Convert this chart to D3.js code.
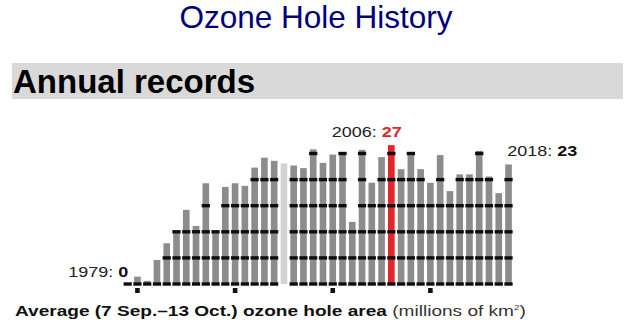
<!DOCTYPE html>
<html>
<head>
<meta charset="utf-8">
<script src="https://cdn.jsdelivr.net/npm/d3@7"></script>
<style>
  body { margin: 0; background: #fff; }
  svg { display: block; font-family: "Liberation Sans", Arial, sans-serif; }
</style>
</head>
<body>
<svg id="chart" width="631" height="323"></svg>
<script>
// years shown on the chart
var years = [1979, 1980, 1981, 1982, 1983, 1984, 1985, 1986, 1987, 1988,
             1989, 1990, 1991, 1992, 1993, 1994, 1995, 1996, 1997, 1998,
             1999, 2000, 2001, 2002, 2003, 2004, 2005, 2006, 2007, 2008,
             2009, 2010, 2011, 2012, 2013, 2014, 2015, 2016, 2017, 2018];
// average ozone hole area, millions of km2
var areas = [0.1, 1.4, 0.6, 4.6, 7.8, 10.1, 14.2, 11.1, 19.3, 10.1,
             18.6, 19.3, 18.8, 22.3, 24.2, 23.6, 23.1, 22.7, 22.2, 25.8,
             23.2, 24.8, 25.2, 11.9, 25.7, 19.4, 24.3, 26.6, 22.0, 25.2,
             22.0, 19.4, 24.7, 17.8, 21.0, 21.0, 25.5, 20.6, 17.4, 22.9];
var missingYears = [1995];
var highlightYear = 2006;
var gridLevels = [0, 5, 10, 15, 20, 25];
var decadeTicks = [1980, 1990, 2000, 2010];
var callouts = [
  { year: 1979, label: "1979: ", value: "0", red: false },
  { year: 2006, label: "2006: ", value: "27", red: true },
  { year: 2018, label: "2018: ", value: "23", red: false }
];

var data = years.map(function(y, i) {
  return { year: y, value: areas[i], missing: missingYears.indexOf(y) >= 0 };
});

var svg = d3.select("#chart");

// page header
svg.append("text")
  .attr("x", 316).attr("y", 27.5)
  .attr("text-anchor", "middle")
  .style("font-size", "31.5px")
  .style("fill", "#000080")
  .text("Ozone Hole History");

svg.append("rect")
  .attr("x", 12).attr("y", 63)
  .attr("width", 611).attr("height", 36)
  .style("fill", "#d9d9d9");

svg.append("text")
  .attr("x", 13).attr("y", 93)
  .style("font-size", "33px")
  .style("font-weight", "bold")
  .style("fill", "#000")
  .text("Annual records");

// scales
var x = d3.scaleBand().domain(years).range([122.8, 513.4]).paddingInner(0.32).paddingOuter(0.16);
var y = d3.scaleLinear().domain([0, 25]).range([284, 153.5]);
var bw = x.bandwidth();

var g = svg.append("g").attr("class", "bars");

g.selectAll(".bar")
  .data(data)
  .enter()
  .append("rect")
  .attr("class", "bar")
  .attr("x", function(d) { return x(d.year); })
  .attr("width", bw)
  .attr("y", function(d) { return y(d.value); })
  .attr("height", function(d) { return y(0) - y(d.value); })
  .style("fill", function(d) {
    if (d.missing) return "#d3d3d3";
    return d.year === highlightYear ? "#e3262b" : "#8c8c8c";
  });

// black dashes where a bar crosses each 5-unit level
var dashes = [];
data.forEach(function(d) {
  if (d.missing) return;
  gridLevels.forEach(function(l) {
    if (d.value >= l) dashes.push({ year: d.year, level: l });
  });
});

g.selectAll(".dash")
  .data(dashes)
  .enter()
  .append("rect")
  .attr("class", "dash")
  .attr("x", function(d) { return x(d.year) - 0.8; })
  .attr("width", bw + 1.6)
  .attr("y", function(d) { return y(d.level) - 1.7; })
  .attr("height", 3.4)
  .style("fill", "#0d0d0d");

// decade markers under the baseline
g.selectAll(".tick")
  .data(decadeTicks)
  .enter()
  .append("rect")
  .attr("class", "tick")
  .attr("x", function(d) { return x(d) + bw / 2 - 2.3; })
  .attr("width", 4.6)
  .attr("y", y(0) + 4)
  .attr("height", 5)
  .style("fill", "#111");

// callout labels (the chart image is stretched horizontally)
var sx = 1.2;
callouts.forEach(function(c) {
  var d = data[years.indexOf(c.year)];
  var cx = x(c.year) + bw / 2;
  var px, py, anchor;
  if (c.year === 1979) { px = cx + 0.5; py = y(0) - 7; anchor = "end"; }
  else if (c.year === 2018) { px = x(c.year) + 2; py = y(d.value) - 8; anchor = "start"; }
  else { px = cx + 10.5; py = y(d.value) - 8; anchor = "end"; }
  var t = svg.append("g")
    .attr("transform", "translate(" + px + "," + py + ") scale(" + sx + ",1)")
    .append("text")
    .attr("text-anchor", anchor)
    .style("font-size", "15px")
    .style("fill", "#222");
  t.append("tspan").text(c.label);
  t.append("tspan")
    .style("font-weight", "bold")
    .style("fill", c.red ? "#e3262b" : "#111")
    .text(c.value);
});

// caption
var cap = svg.append("g")
  .attr("transform", "translate(15,316) scale(1.23,1)")
  .append("text")
  .style("font-size", "15.5px")
  .style("fill", "#111");
cap.append("tspan").style("font-weight", "bold").text("Average (7 Sep.\u201313 Oct.) ozone hole area");
cap.append("tspan").style("fill", "#333").text(" (millions of km");
cap.append("tspan").attr("dy", -6).style("font-size", "8px").style("fill", "#333").text("2");
cap.append("tspan").attr("dy", 6).style("fill", "#333").text(")");
</script>
</body>
</html>
